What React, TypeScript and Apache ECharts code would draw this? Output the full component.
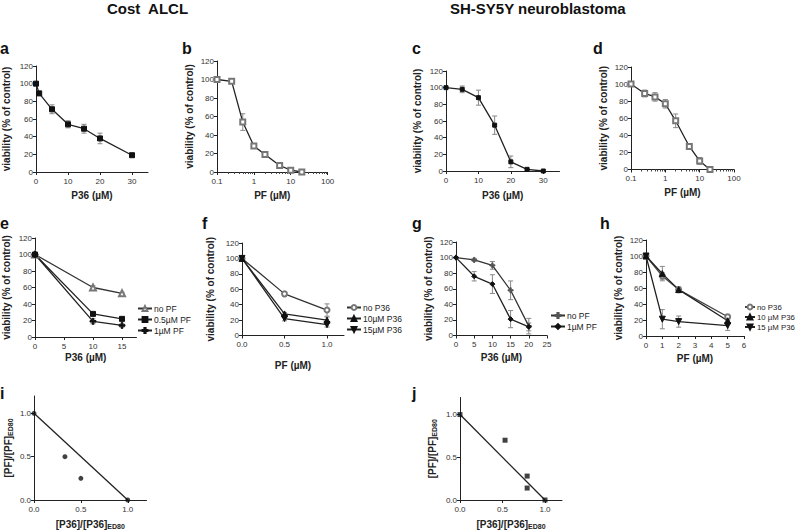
import React, { useEffect, useRef } from "react";
import * as echarts from "echarts";

const FONT = "'Liberation Sans', Arial, sans-serif";

// ---- Panel a (Cost ALCL, P36) ----
const aX = [0, 1, 5, 10, 15, 20, 30];
const aY = [100, 89, 71, 54, 49, 38, 19];
const aErr = [2, 2, 5, 4, 5, 6, 1];
// ---- Panel b (Cost ALCL, PF) ----
const bX = [0.1, 0.25, 0.5, 1, 2, 5, 10, 20];
const bY = [100, 98, 54, 28, 19, 7, 2, 0];
const bErr = [1, 1, 9, 2, 2, 1, 1, 0];
// ---- Panel c (SH-SY5Y, P36) ----
const cX = [0, 5, 10, 15, 20, 25, 30];
const cY = [100, 98, 88, 55, 11, 2, 0];
const cErr = [1, 4, 9, 11, 7, 1, 0];
// ---- Panel d (SH-SY5Y, PF) ----
const dX = [0.1, 0.25, 0.5, 1, 2, 5, 10, 20];
const dY = [100, 89, 85, 77, 57, 27, 10, 0];
const dErr = [1, 4, 5, 5, 8, 2, 4, 0];
// ---- Panel e ----
const eX = [0, 10, 15];
const eNoPF = [100, 60, 53];
const eNoPFErr = [0, 2, 1];
const e05PF = [100, 28, 22];
const e05PFErr = [0, 1, 2];
const e1PF = [100, 19, 14];
const e1PFErr = [0, 3, 2];
// ---- Panel f ----
const fX = [0, 0.5, 1.0];
const fNoP36 = [100, 54, 33];
const fNoP36Err = [0, 3, 8];
const f10P36 = [100, 28, 20];
const f10P36Err = [0, 2, 4];
const f15P36 = [100, 22, 14];
const f15P36Err = [0, 3, 3];
// ---- Panel g ----
const gX = [0, 5, 10, 15, 20];
const gNoPF = [100, 97, 90, 58, 12];
const gNoPFErr = [0, 2, 5, 12, 10];
const g1PF = [100, 76, 66, 21, 11];
const g1PFErr = [0, 6, 12, 11, 5];
// ---- Panel h ----
const hX = [0, 1, 2, 5];
const hNoP36 = [100, 75, 58, 24];
const hNoP36Err = [0, 4, 3, 3];
const h10P36 = [100, 78, 58, 19];
const h10P36Err = [0, 9, 3, 2];
const h15P36 = [100, 21, 18, 13];
const h15P36Err = [0, 12, 7, 6];
// ---- Panel i (isobologram, Cost ALCL) ----
const iX = [0, 0.33, 0.5, 1];
const iY = [1, 0.5, 0.25, 0];
const iLineX = [0, 1];
const iLineY = [1, 0];
// ---- Panel j (isobologram, SH-SY5Y) ----
const jX = [0, 0.53, 0.79, 0.79, 1];
const jY = [1, 0.7, 0.28, 0.14, 0];
const jLineX = [0, 1];
const jLineY = [1, 0];

const PLUS = "path://M3,0H5V3H8V5H5V8H3V5H0V3H3Z";

type Grid = { left: number; top: number; width: number; height: number };
const GRIDS: Grid[] = [
  { left: 36, top: 66, width: 112, height: 106 }, // a
  { left: 217, top: 61, width: 110.6, height: 111 }, // b
  { left: 446, top: 71, width: 113.5, height: 100 }, // c
  { left: 631, top: 67, width: 103, height: 102.5 }, // d
  { left: 35, top: 238, width: 101.5, height: 99 }, // e
  { left: 242, top: 243, width: 102, height: 92.5 }, // f
  { left: 456, top: 242, width: 91, height: 93.5 }, // g
  { left: 646, top: 240, width: 98, height: 96 }, // h
  { left: 34, top: 396, width: 112.5, height: 105 }, // i
  { left: 460, top: 397.5, width: 102, height: 104 }, // j
];

const subRich = {
  sub: { fontFamily: FONT, fontSize: 7, fontWeight: "bold", color: "#222", verticalAlign: "bottom", padding: [4, 0, 0, 0] },
};

function xAxisCfg(gi: number, o: any) {
  return {
    gridIndex: gi,
    type: o.log ? "log" : "value",
    min: o.min,
    max: o.max,
    ...(o.log ? { logBase: 10 } : { interval: o.interval }),
    name: o.name,
    nameLocation: "middle",
    nameGap: o.nameGap,
    nameTextStyle: { fontFamily: FONT, fontSize: 10, fontWeight: "bold", color: "#222", rich: subRich },
    axisLine: { show: true, onZero: false, lineStyle: { color: "#222", width: 1 } },
    axisTick: { show: true, inside: false, length: 3, lineStyle: { color: "#222" } },
    minorTick: o.log ? { show: true, splitNumber: 9, length: 2, lineStyle: { color: "#444" } } : { show: false },
    axisLabel: {
      fontFamily: FONT,
      fontSize: 8,
      color: "#333",
      margin: 5,
      showMaxLabel: o.showMax === undefined ? true : o.showMax,
      formatter: o.fmt,
    },
    splitLine: { show: false },
  };
}

function yAxisCfg(gi: number, o: any) {
  return {
    gridIndex: gi,
    type: "value",
    min: o.min,
    max: o.max,
    interval: o.interval,
    name: o.name,
    nameLocation: "middle",
    nameRotate: 90,
    nameGap: o.nameGap,
    nameTextStyle: { fontFamily: FONT, fontSize: 10, fontWeight: "bold", color: "#222", rich: subRich },
    axisLine: { show: true, onZero: false, lineStyle: { color: "#222", width: 1 } },
    axisTick: { show: true, inside: false, length: 3, lineStyle: { color: "#222" } },
    axisLabel: {
      fontFamily: FONT,
      fontSize: 8,
      color: "#333",
      margin: 3,
      showMaxLabel: o.showMax === undefined ? true : o.showMax,
      formatter: o.fmt,
    },
    splitLine: { show: false },
  };
}

function lineSeries(name: string, gi: number, xs: number[], ys: number[], s: any) {
  return {
    type: "line",
    name,
    xAxisIndex: gi,
    yAxisIndex: gi,
    data: xs.map((x, i) => [x, ys[i]]),
    symbol: s.symbol,
    symbolSize: s.size,
    symbolRotate: s.rotate || 0,
    showSymbol: true,
    lineStyle: { color: s.line || "#222", width: 1.3 },
    itemStyle: { color: s.color, borderColor: s.color, borderWidth: 1 },
    z: 4,
    silent: true,
  };
}

function errSeries(gi: number, xs: number[], ys: number[], errs: number[], color = "#888") {
  return {
    type: "custom",
    xAxisIndex: gi,
    yAxisIndex: gi,
    silent: true,
    z: 3,
    encode: { x: 0, y: 1 },
    data: xs.map((x, i) => [x, ys[i], errs[i]]),
    renderItem: (_p: any, api: any) => {
      const x = api.value(0);
      const y = api.value(1);
      const e = api.value(2);
      if (!e) return null;
      const hi = api.coord([x, y + e]);
      const lo = api.coord([x, Math.max(y - e, 0.0001)]);
      const w = 2.5;
      const st = { stroke: color, lineWidth: 1 };
      return {
        type: "group",
        children: [
          { type: "line", shape: { x1: hi[0], y1: hi[1], x2: lo[0], y2: lo[1] }, style: st },
          { type: "line", shape: { x1: hi[0] - w, y1: hi[1], x2: hi[0] + w, y2: hi[1] }, style: st },
          { type: "line", shape: { x1: lo[0] - w, y1: lo[1], x2: lo[0] + w, y2: lo[1] }, style: st },
        ],
      };
    },
  };
}

function scatterSeries(gi: number, xs: number[], ys: number[], symbol: string, size: number) {
  return {
    type: "scatter",
    xAxisIndex: gi,
    yAxisIndex: gi,
    data: xs.map((x, i) => [x, ys[i]]),
    symbol,
    symbolSize: size,
    itemStyle: { color: "#111" },
    z: 5,
    silent: true,
  };
}

function legendCfg(left: number, top: number, names: string[], fontSize = 8.5, itemWidth = 14) {
  return {
    left,
    top,
    orient: "vertical",
    itemGap: 2,
    itemWidth,
    itemHeight: 6,
    padding: 0,
    selectedMode: false,
    data: names,
    formatter: (n: string) => n.split("|")[1],
    textStyle: { fontFamily: FONT, fontSize, color: "#222", padding: [0, 0, 0, -3] },
  };
}

function letter(t: string, x: number, y: number) {
  return {
    type: "text",
    left: x,
    top: y,
    style: { text: t, font: `bold 16px ${FONT}`, fill: "#111" },
  };
}

const VIAB = "viability (% of control)";
const fmt1 = (v: number) => v.toFixed(1);

function buildOption() {
  const xAxis = [
    xAxisCfg(0, { min: 0, max: 35, interval: 10, name: "P36 (µM)", nameGap: 18, showMax: false }),
    xAxisCfg(1, { log: true, min: 0.1, max: 100, name: "PF (µM)", nameGap: 18 }),
    xAxisCfg(2, { min: 0, max: 35, interval: 10, name: "P36 (µM)", nameGap: 19, showMax: false }),
    xAxisCfg(3, { log: true, min: 0.1, max: 100, name: "PF (µM)", nameGap: 18 }),
    xAxisCfg(4, { min: 0, max: 17.5, interval: 5, name: "P36 (µM)", nameGap: 15, showMax: false }),
    xAxisCfg(5, { min: 0, max: 1.2, interval: 0.5, name: "PF (µM)", nameGap: 25, showMax: false, fmt: fmt1 }),
    xAxisCfg(6, { min: 0, max: 25, interval: 5, name: "P36 (µM)", nameGap: 17 }),
    xAxisCfg(7, { min: 0, max: 6, interval: 1, name: "PF (µM)", nameGap: 17 }),
    xAxisCfg(8, { min: 0, max: 1.2, interval: 0.5, name: "[P36]/[P36]{sub|ED80}", nameGap: 19, showMax: false, fmt: fmt1 }),
    xAxisCfg(9, { min: 0, max: 1.2, interval: 0.5, name: "[P36]/[P36]{sub|ED80}", nameGap: 19, showMax: false, fmt: fmt1 }),
  ];
  const yv = (gi: number, gap: number) => yAxisCfg(gi, { min: 0, max: 120, interval: 20, name: VIAB, nameGap: gap });
  const yAxis = [
    yv(0, 25),
    yv(1, 23),
    yv(2, 24),
    yv(3, 23),
    yv(4, 24),
    yv(5, 27),
    yv(6, 23),
    yv(7, 23),
    yAxisCfg(8, { min: 0, max: 1.2, interval: 0.5, name: "[PF]/[PF]{sub|ED80}", nameGap: 20, showMax: false, fmt: fmt1 }),
    yAxisCfg(9, { min: 0, max: 1.2, interval: 0.5, name: "[PF]/[PF]{sub|ED80}", nameGap: 22, showMax: false, fmt: fmt1 }),
  ];

  const series: any[] = [
    // a
    errSeries(0, aX, aY, aErr),
    lineSeries("a|P36", 0, aX, aY, { symbol: "rect", size: 5, color: "#111" }),
    // b
    errSeries(1, bX, bY, bErr),
    lineSeries("b|PF", 1, bX, bY, { symbol: "emptyRect", size: 5, color: "#777" }),
    // c
    errSeries(2, cX, cY, cErr),
    lineSeries("c|P36", 2, cX, cY, { symbol: "rect", size: 4, color: "#111" }),
    // d
    errSeries(3, dX, dY, dErr),
    lineSeries("d|PF", 3, dX, dY, { symbol: "emptyRect", size: 5, color: "#777" }),
    // e
    errSeries(4, eX, eNoPF, eNoPFErr),
    errSeries(4, eX, e05PF, e05PFErr),
    errSeries(4, eX, e1PF, e1PFErr),
    lineSeries("e|no PF", 4, eX, eNoPF, { symbol: "emptyTriangle", size: 6, color: "#777", line: "#333" }),
    lineSeries("e|0.5µM PF", 4, eX, e05PF, { symbol: "rect", size: 5, color: "#111" }),
    lineSeries("e|1µM PF", 4, eX, e1PF, { symbol: PLUS, size: 6, color: "#111" }),
    // f
    errSeries(5, fX, fNoP36, fNoP36Err),
    errSeries(5, fX, f10P36, f10P36Err),
    errSeries(5, fX, f15P36, f15P36Err),
    lineSeries("f|no P36", 5, fX, fNoP36, { symbol: "emptyCircle", size: 5, color: "#777", line: "#333" }),
    lineSeries("f|10µM P36", 5, fX, f10P36, { symbol: "triangle", size: 6, color: "#111" }),
    lineSeries("f|15µM P36", 5, fX, f15P36, { symbol: "triangle", size: 6, rotate: 180, color: "#111" }),
    // g
    errSeries(6, gX, gNoPF, gNoPFErr),
    errSeries(6, gX, g1PF, g1PFErr),
    lineSeries("g|no PF", 6, gX, gNoPF, { symbol: PLUS, size: 5, color: "#555", line: "#333" }),
    lineSeries("g|1µM PF", 6, gX, g1PF, { symbol: "diamond", size: 5, color: "#111" }),
    // h
    errSeries(7, hX, hNoP36, hNoP36Err),
    errSeries(7, hX, h10P36, h10P36Err),
    errSeries(7, hX, h15P36, h15P36Err),
    lineSeries("h|no P36", 7, hX, hNoP36, { symbol: "emptyCircle", size: 5, color: "#777", line: "#444" }),
    lineSeries("h|10 µM P36", 7, hX, h10P36, { symbol: "triangle", size: 6, color: "#111" }),
    lineSeries("h|15 µM P36", 7, hX, h15P36, { symbol: "triangle", size: 6, rotate: 180, color: "#111" }),
    // i
    {
      type: "line",
      xAxisIndex: 8,
      yAxisIndex: 8,
      data: iLineX.map((x, k) => [x, iLineY[k]]),
      symbol: "none",
      lineStyle: { color: "#222", width: 1.3 },
      silent: true,
      z: 3,
    },
    scatterSeries(8, iX, iY, "circle", 5),
    // j
    {
      type: "line",
      xAxisIndex: 9,
      yAxisIndex: 9,
      data: jLineX.map((x, k) => [x, jLineY[k]]),
      symbol: "none",
      lineStyle: { color: "#222", width: 1.3 },
      silent: true,
      z: 3,
    },
    scatterSeries(9, jX, jY, "rect", 5),
  ];

  const legend = [
    legendCfg(137, 304, ["e|no PF", "e|0.5µM PF", "e|1µM PF"]),
    legendCfg(346, 303, ["f|no P36", "f|10µM P36", "f|15µM P36"]),
    legendCfg(550, 311, ["g|no PF", "g|1µM PF"]),
    legendCfg(744, 303, ["h|no P36", "h|10 µM P36", "h|15 µM P36"], 7.8, 10),
  ];

  const graphic = [
    {
      type: "text",
      left: 107,
      top: 1,
      style: { text: "Cost  ALCL", font: `bold 15px ${FONT}`, fill: "#111" },
    },
    {
      type: "text",
      left: 450,
      top: 1,
      style: { text: "SH-SY5Y neuroblastoma", font: `bold 15px ${FONT}`, fill: "#111" },
    },
    letter("a", 0, 40),
    letter("b", 182, 40),
    letter("c", 412, 40),
    letter("d", 593, 40),
    letter("e", 0, 215),
    letter("f", 202, 215),
    letter("g", 412, 215),
    letter("h", 600, 215),
    letter("i", 0, 385),
    letter("j", 412, 385),
  ];

  return {
    animation: false,
    backgroundColor: "#fff",
    grid: GRIDS.map((g) => ({ ...g, containLabel: false })),
    xAxis,
    yAxis,
    series,
    legend,
    graphic,
  };
}

export default function App() {
  const ref = useRef<HTMLDivElement>(null);
  useEffect(() => {
    const chart = echarts.init(ref.current as HTMLDivElement, null, { renderer: "svg", width: 798, height: 531 });
    chart.setOption(buildOption() as any);
    return () => chart.dispose();
  }, []);
  return (
    <div
      ref={ref}
      style={{ position: "absolute", left: 0, top: 0, width: 798, height: 531, background: "#fff" }}
    />
  );
}
